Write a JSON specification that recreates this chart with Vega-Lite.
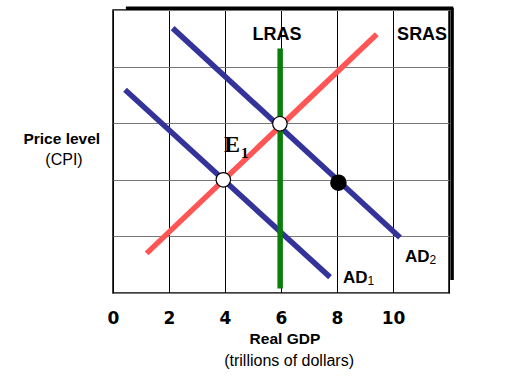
{
  "$schema": "https://vega.github.io/schema/vega-lite/v6.json",
  "width": 336,
  "height": 283,
  "autosize": {"type": "none"},
  "padding": {"left": 113, "top": 10, "right": 81, "bottom": 86},
  "background": "white",
  "config": {
    "view": {"stroke": "black", "strokeWidth": 1.5},
    "font": "Liberation Sans"
  },
  "datasets": {
    "curves": [
      {"curve": "AD1", "i": 0, "gdp": 0.43, "price": 3.59},
      {"curve": "AD1", "i": 1, "gdp": 7.75, "price": 0.28},
      {"curve": "AD2", "i": 0, "gdp": 2.13, "price": 4.68},
      {"curve": "AD2", "i": 1, "gdp": 10.25, "price": 0.98},
      {"curve": "SRAS", "i": 0, "gdp": 1.2, "price": 0.7},
      {"curve": "SRAS", "i": 1, "gdp": 9.42, "price": 4.57},
      {"curve": "LRAS", "i": 0, "gdp": 5.97, "price": 0.08},
      {"curve": "LRAS", "i": 1, "gdp": 5.97, "price": 4.32}
    ],
    "shadow": [
      {"x1": 0.46, "x2": 12.15, "y1": 5.03, "y2": 5.03},
      {"x1": 12.11, "x2": 12.11, "y1": 5.04, "y2": 0.23}
    ],
    "open": [
      {"gdp": 3.94, "price": 2.0},
      {"gdp": 5.96, "price": 2.99}
    ],
    "closed": [
      {"gdp": 8.05, "price": 1.95}
    ]
  },
  "layer": [
    {
      "data": {"name": "shadow"},
      "mark": {"type": "rule", "color": "black", "strokeWidth": 3.5, "clip": false},
      "encoding": {
        "x": {"field": "x1", "type": "quantitative", "scale": {"domain": [0, 12], "nice": false, "zero": false},
              "axis": {"values": [0, 2, 4, 6, 8, 10, 12], "grid": true, "gridColor": "black", "gridOpacity": 1, "gridWidth": 1,
                       "domain": false, "ticks": false, "tickSize": 0, "labelFlush": false, "labelOverlap": false,
                       "labelExpr": "datum.value == 12 ? '' : datum.label",
                       "labelFont": "DejaVu Sans", "labelFontWeight": "bold", "labelFontSize": 17, "labelColor": "black",
                       "labelBaseline": "alphabetic", "labelPadding": 30, "title": null}},
        "x2": {"field": "x2"},
        "y": {"field": "y1", "type": "quantitative", "scale": {"domain": [0, 5], "nice": false, "zero": false},
              "axis": {"values": [0, 1, 2, 3, 4, 5], "grid": true, "gridColor": "#777777", "gridOpacity": 1, "gridWidth": 1.2,
                       "domain": false, "ticks": false, "labels": false, "title": null}},
        "y2": {"field": "y2"}
      }
    },
    {
      "data": {"name": "curves"},
      "mark": {"type": "line", "strokeWidth": 5.5, "strokeCap": "butt"},
      "encoding": {
        "x": {"field": "gdp", "type": "quantitative"},
        "y": {"field": "price", "type": "quantitative"},
        "order": {"field": "i", "type": "quantitative"},
        "color": {"field": "curve", "type": "nominal", "legend": null,
                  "scale": {"domain": ["AD1", "AD2", "SRAS", "LRAS"], "range": ["#333399", "#333399", "#FF5555", "#0A7D0A"]}}
      }
    },
    {
      "data": {"name": "open"},
      "mark": {"type": "point", "filled": true, "fill": "white", "stroke": "black", "strokeWidth": 1.2, "size": 210, "opacity": 1},
      "encoding": {
        "x": {"field": "gdp", "type": "quantitative"},
        "y": {"field": "price", "type": "quantitative"}
      }
    },
    {
      "data": {"name": "closed"},
      "mark": {"type": "point", "filled": true, "fill": "black", "stroke": "black", "size": 210, "opacity": 1},
      "encoding": {
        "x": {"field": "gdp", "type": "quantitative"},
        "y": {"field": "price", "type": "quantitative"}
      }
    },
    {
      "data": {"values": [
        {"t": "LRAS", "gdp": 5.86, "price": 4.47},
        {"t": "SRAS", "gdp": 11.04, "price": 4.47}
      ]},
      "mark": {"type": "text", "font": "Liberation Sans", "fontWeight": "bold", "fontSize": 18, "align": "center", "baseline": "alphabetic", "color": "black"},
      "encoding": {
        "x": {"field": "gdp", "type": "quantitative"},
        "y": {"field": "price", "type": "quantitative"},
        "text": {"field": "t"}
      }
    },
    {
      "data": {"values": [
        {"t": "AD", "gdp": 10.43, "price": 0.55},
        {"t": "AD", "gdp": 8.21, "price": 0.18}
      ]},
      "mark": {"type": "text", "font": "Liberation Sans", "fontWeight": "bold", "fontSize": 17, "align": "left", "baseline": "alphabetic", "color": "black"},
      "encoding": {
        "x": {"field": "gdp", "type": "quantitative"},
        "y": {"field": "price", "type": "quantitative"},
        "text": {"field": "t"}
      }
    },
    {
      "data": {"values": [
        {"t": "2", "gdp": 11.3, "price": 0.51},
        {"t": "1", "gdp": 9.09, "price": 0.14}
      ]},
      "mark": {"type": "text", "font": "Liberation Sans", "fontWeight": "normal", "fontSize": 12, "align": "left", "baseline": "alphabetic", "color": "black"},
      "encoding": {
        "x": {"field": "gdp", "type": "quantitative"},
        "y": {"field": "price", "type": "quantitative"},
        "text": {"field": "t"}
      }
    },
    {
      "data": {"values": [{"t": "E", "gdp": 3.96, "price": 2.49}]},
      "mark": {"type": "text", "font": "Liberation Serif", "fontWeight": "bold", "fontSize": 24, "align": "left", "baseline": "alphabetic", "color": "black"},
      "encoding": {
        "x": {"field": "gdp", "type": "quantitative"},
        "y": {"field": "price", "type": "quantitative"},
        "text": {"field": "t"}
      }
    },
    {
      "data": {"values": [{"t": "1", "gdp": 4.57, "price": 2.39}]},
      "mark": {"type": "text", "font": "Liberation Serif", "fontWeight": "bold", "fontSize": 15, "align": "left", "baseline": "alphabetic", "color": "black"},
      "encoding": {
        "x": {"field": "gdp", "type": "quantitative"},
        "y": {"field": "price", "type": "quantitative"},
        "text": {"field": "t"}
      }
    },
    {
      "data": {"values": [
        {"t": "Price level", "gdp": -1.83, "price": 2.64},
        {"t": "Real GDP", "gdp": 6.14, "price": -0.9}
      ]},
      "mark": {"type": "text", "font": "Liberation Sans", "fontWeight": "bold", "fontSize": 15.5, "align": "center", "baseline": "alphabetic", "color": "black"},
      "encoding": {
        "x": {"field": "gdp", "type": "quantitative"},
        "y": {"field": "price", "type": "quantitative"},
        "text": {"field": "t"}
      }
    },
    {
      "data": {"values": [
        {"t": "(CPI)", "gdp": -1.75, "price": 2.26},
        {"t": "(trillions of dollars)", "gdp": 6.29, "price": -1.29}
      ]},
      "mark": {"type": "text", "font": "Liberation Sans", "fontWeight": "normal", "fontSize": 16, "align": "center", "baseline": "alphabetic", "color": "black"},
      "encoding": {
        "x": {"field": "gdp", "type": "quantitative"},
        "y": {"field": "price", "type": "quantitative"},
        "text": {"field": "t"}
      }
    }
  ]
}
